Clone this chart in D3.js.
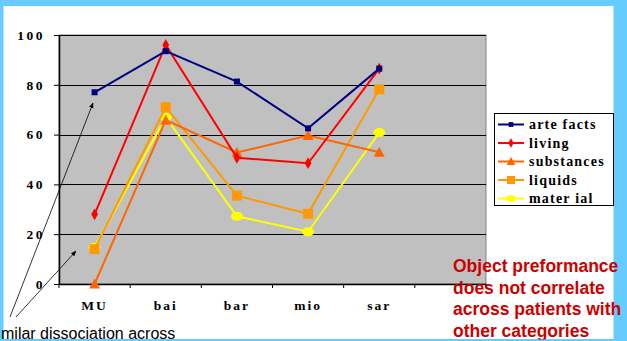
<!DOCTYPE html>
<html>
<head>
<meta charset="utf-8">
<script src="https://cdn.jsdelivr.net/npm/d3@7"></script>
<style>
  html, body { margin: 0; padding: 0; background: #66CCFF; }
  svg { display: block; }
</style>
</head>
<body>
<svg id="chart" width="627" height="341"></svg>
<script>
// Categories (patients) along the x axis; the sixth slot stays empty
const categories = ["MU", "bai", "bar", "mio", "sar", ""];
const yTicks = [0, 20, 40, 60, 80, 100];

// Percent correct per semantic category
const arteFacts  = [77, 93.5, 81.3, 62.5, 86.5];
const living     = [28, 96, 50.7, 48.5, 86.5];
const substances = [0, 65.8, 52.8, 59.6, 52.9];
const liquids    = [14, 71, 35.5, 28.2, 78.2];
const material   = [14.8, 67, 27.2, 21, 60.8];

const seriesNames  = ["arte facts", "living", "substances", "liquids", "mater ial"];
const seriesColors = ["#000080", "#FF0000", "#FF6600", "#FF9900", "#FFFF00"];
const seriesShapes = ["smallSquare", "diamond", "triangle", "square", "ellipse"];
const seriesValues = [arteFacts, living, substances, liquids, material];

const noteLines = ["Object preformance", "does not correlate", "across patients with", "other categories"];
const sideNote = "milar dissociation across";

const SERIF = '"Liberation Serif", "Times New Roman", serif';
const SANS = '"Liberation Sans", Arial, sans-serif';

const svg = d3.select("#chart");

// white slide panel on the blue frame
svg.append("rect").attr("x", 3.5).attr("y", 6).attr("width", 610).attr("height", 333).attr("fill", "#FFFFFF");

const plot = { left: 59, right: 486, top: 35, bottom: 284 };

const x = d3.scaleBand().domain(categories).range([plot.left, plot.right]).padding(0);
const y = d3.scaleLinear().domain([0, 100]).range([plot.bottom, plot.top]);

// plot background
svg.append("rect")
  .attr("x", plot.left).attr("y", plot.top)
  .attr("width", plot.right - plot.left).attr("height", plot.bottom - plot.top)
  .attr("fill", "#C0C0C0").attr("stroke", "#808080").attr("stroke-width", 1);

// horizontal gridlines
svg.append("g").selectAll("line").data(yTicks.filter(d => d > 0)).join("line")
  .attr("x1", plot.left).attr("x2", plot.right)
  .attr("y1", d => Math.round(y(d)) + 0.5).attr("y2", d => Math.round(y(d)) + 0.5)
  .attr("stroke", "#000").attr("stroke-width", 1);

// y axis
const yAxis = svg.append("g").attr("transform", `translate(${plot.left},0)`)
  .call(d3.axisLeft(y).tickValues(yTicks).tickSize(5).tickPadding(9).tickSizeOuter(0));
yAxis.select(".domain").attr("stroke", "#000").attr("stroke-width", 1.5);
yAxis.selectAll("text")
  .style("font-family", SERIF).style("font-weight", "bold")
  .style("font-size", "13.5px").style("letter-spacing", "2.5px").attr("fill", "#000");

// x axis with ticks at category boundaries
const xAxis = svg.append("g").attr("transform", `translate(0,${plot.bottom})`)
  .call(d3.axisBottom(x).tickSize(0).tickPadding(16).tickSizeOuter(0));
xAxis.select(".domain").attr("stroke", "#000").attr("stroke-width", 1.5);
xAxis.selectAll("text")
  .style("font-family", SERIF).style("font-weight", "bold")
  .style("font-size", "13.5px").style("letter-spacing", "2px").attr("fill", "#000");
const boundaries = categories.map(c => x(c)).concat([x(categories[categories.length - 1]) + x.bandwidth()]);
xAxis.append("g").selectAll("line").data(boundaries).join("line")
  .attr("x1", d => d).attr("x2", d => d).attr("y1", 0).attr("y2", 4)
  .attr("stroke", "#000").attr("stroke-width", 1);

const cx = i => x(categories[i]) + x.bandwidth() / 2;

function drawMarker(g, shape, color, px, py, scale) {
  const s = scale || 1;
  if (shape === "smallSquare") {
    g.append("rect").attr("x", px - 3 * s).attr("y", py - 3 * s).attr("width", 6 * s).attr("height", 6 * s).attr("fill", color);
  } else if (shape === "diamond") {
    g.append("path").attr("d", d3.symbol(d3.symbolDiamond, 40 * s * s)()).attr("transform", `translate(${px},${py})`).attr("fill", color);
  } else if (shape === "triangle") {
    const h = 9 * s, w = 11 * s;
    g.append("path").attr("d", `M${px},${py - h / 2 - 1}L${px + w / 2},${py + h / 2}L${px - w / 2},${py + h / 2}Z`).attr("fill", color);
  } else if (shape === "square") {
    g.append("rect").attr("x", px - 5 * s).attr("y", py - 5 * s).attr("width", 10 * s).attr("height", 10 * s).attr("fill", color);
  } else {
    g.append("ellipse").attr("cx", px).attr("cy", py).attr("rx", 6 * s).attr("ry", 4.5 * s).attr("fill", color);
  }
}

// series lines and markers
const line = d3.line().x((d, i) => cx(i)).y(d => y(d));
const drawOrder = [4, 3, 2, 1, 0];
drawOrder.forEach(k => {
  const g = svg.append("g");
  g.append("path").attr("d", line(seriesValues[k]))
    .attr("fill", "none").attr("stroke", seriesColors[k]).attr("stroke-width", 2);
  seriesValues[k].forEach((v, i) => drawMarker(g, seriesShapes[k], seriesColors[k], cx(i), y(v)));
});

// legend
const legend = svg.append("g");
legend.append("rect").attr("x", 494.5).attr("y", 113.5).attr("width", 119).attr("height", 92)
  .attr("fill", "#FFFFFF").attr("stroke", "#000").attr("stroke-width", 1);
seriesNames.forEach((name, k) => {
  const ly = 124.5 + k * 18.5;
  legend.append("line").attr("x1", 498).attr("x2", 524).attr("y1", ly).attr("y2", ly)
    .attr("stroke", seriesColors[k]).attr("stroke-width", 2);
  drawMarker(legend, seriesShapes[k], seriesColors[k], 511, ly, 0.8);
  legend.append("text").attr("x", 529).attr("y", ly).attr("dy", "0.33em")
    .style("font-family", SERIF).style("font-weight", "bold")
    .style("font-size", "14px").style("letter-spacing", "1.2px").attr("fill", "#000").text(name);
});

// annotation arrows
const defs = svg.append("defs");
defs.append("marker").attr("id", "head").attr("viewBox", "0 0 10 10")
  .attr("refX", 9).attr("refY", 5).attr("markerWidth", 7).attr("markerHeight", 7)
  .attr("orient", "auto").append("path").attr("d", "M0,1L10,5L0,9Z").attr("fill", "#000");
const arrows = [[10, 317, 93, 103], [16, 317, 76, 251]];
svg.append("g").selectAll("line").data(arrows).join("line")
  .attr("x1", d => d[0]).attr("y1", d => d[1]).attr("x2", d => d[2]).attr("y2", d => d[3])
  .attr("stroke", "#000").attr("stroke-width", 0.8).attr("marker-end", "url(#head)");

// side caption
svg.append("text").attr("x", 1).attr("y", 338.5)
  .style("font-family", SANS).style("font-size", "16px").attr("fill", "#000").text(sideNote);

// red note
svg.append("g").selectAll("text").data(noteLines).join("text")
  .attr("x", 453).attr("y", (d, i) => 272 + i * 21.6)
  .style("font-family", SANS).style("font-weight", "bold").style("font-size", "17.5px")
  .attr("fill", "#CC0000").text(d => d);

// blue frame strip along the bottom
svg.append("rect").attr("x", 0).attr("y", 339.5).attr("width", 627).attr("height", 1.5).attr("fill", "#66CCFF");
</script>
</body>
</html>
